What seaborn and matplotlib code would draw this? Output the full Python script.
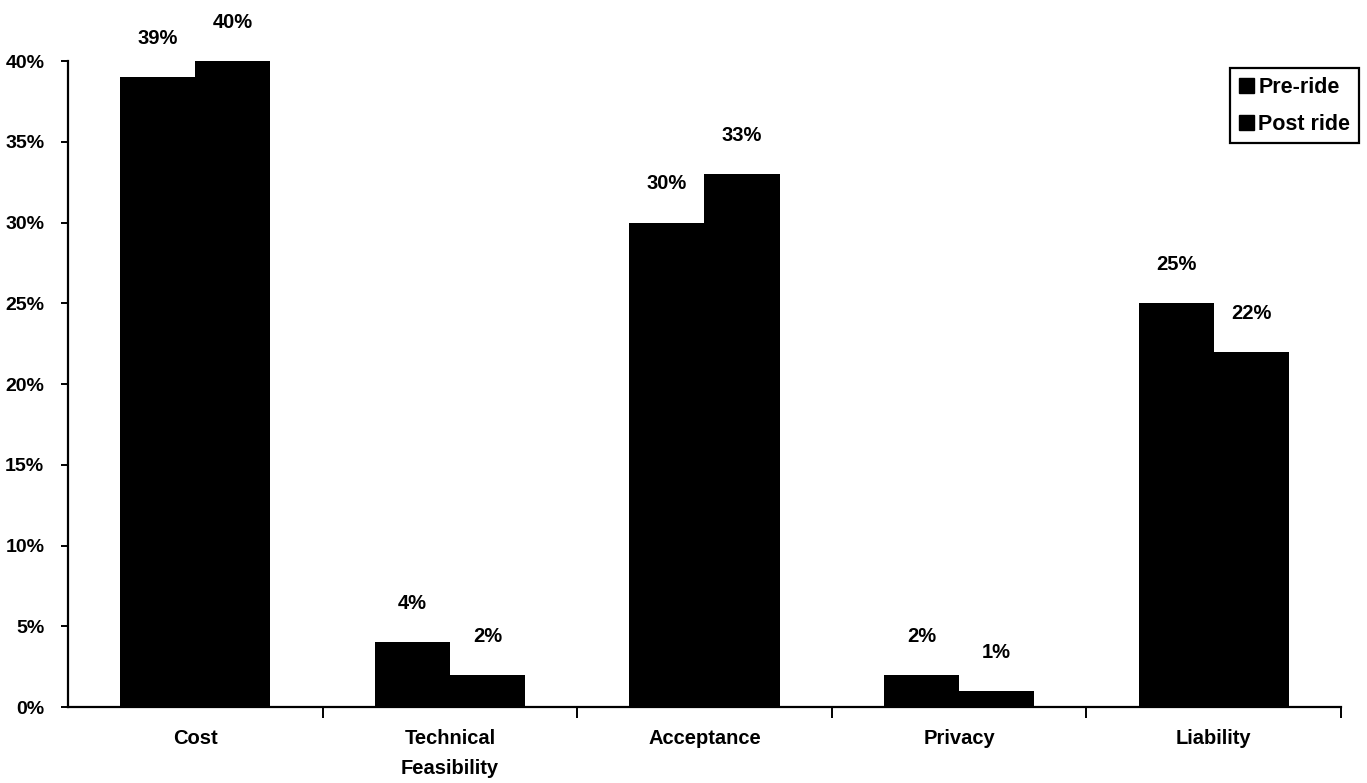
import matplotlib
matplotlib.use("Agg")
import matplotlib.pyplot as plt
import matplotlib.patches as mpatches
from matplotlib.ticker import FixedLocator, FuncFormatter, NullFormatter
import pandas as pd
import seaborn as sns

# Share of respondents naming each barrier, before and after the ride (%)
categories = ["Cost", "Technical\nFeasibility", "Acceptance", "Privacy", "Liability"]
series_names = ["Pre-ride", "Post ride"]
pre_ride = [39, 4, 30, 2, 25]
post_ride = [40, 2, 33, 1, 22]
y_ticks = [0, 5, 10, 15, 20, 25, 30, 35, 40]

df = pd.DataFrame({
    "category": categories * 2,
    "survey": [series_names[0]] * len(categories) + [series_names[1]] * len(categories),
    "share": pre_ride + post_ride,
})

sns.set_theme(style="white")
plt.rcParams["font.family"] = ["Liberation Sans", "DejaVu Sans"]
plt.rcParams["font.weight"] = "bold"
plt.rcParams["text.color"] = "black"
plt.rcParams["xtick.color"] = "black"
plt.rcParams["ytick.color"] = "black"
plt.rcParams["axes.labelcolor"] = "black"

fig = plt.figure(figsize=(13.67, 7.83), dpi=100)
ax = fig.add_axes([0.0497, 0.097, 0.981 - 0.0497, 0.922 - 0.097])

sns.barplot(data=df, x="category", y="share", hue="survey", order=categories,
            hue_order=series_names, palette=["black", "black"], width=0.59,
            gap=0, saturation=1, edgecolor="black", linewidth=0, ax=ax,
            legend=False, errorbar=None)

# value labels above each bar
for container in ax.containers:
    labels = [f"{v:.0f}%" for v in container.datavalues]
    ax.bar_label(container, labels=labels, padding=21, fontsize=14.5,
                 fontweight="bold", color="black", clip_on=False)

ax.set_xlim(-0.5, 4.5)
ax.set_ylim(0, 40)
ax.set_xlabel("")
ax.set_ylabel("")

for side in ["top", "right"]:
    ax.spines[side].set_visible(False)
for side in ["left", "bottom"]:
    ax.spines[side].set_color("black")
    ax.spines[side].set_linewidth(1.6)

ax.yaxis.set_major_locator(FixedLocator(y_ticks))
ax.yaxis.set_major_formatter(FuncFormatter(lambda v, _: f"{v:.0f}%"))
ax.tick_params(axis="y", which="major", left=True, length=5, width=1.4,
               color="black", labelcolor="black", labelsize=14, pad=12)

# category labels centred, tick marks between categories
ax.tick_params(axis="x", which="major", bottom=False, length=0,
               labelsize=14.5, labelcolor="black", pad=16)
ax.xaxis.set_minor_locator(FixedLocator([0.5, 1.5, 2.5, 3.5, 4.5]))
ax.xaxis.set_minor_formatter(NullFormatter())
ax.tick_params(axis="x", which="minor", bottom=True, length=8, width=1.4,
               color="black", direction="out")
for lbl in ax.get_xticklabels() + ax.get_yticklabels():
    lbl.set_fontweight("bold")
    lbl.set_color("black")
for lbl in ax.get_xticklabels():
    lbl.set_linespacing(1.7)

handles = [mpatches.Patch(facecolor="black", edgecolor="black", label=n)
           for n in series_names]
leg = fig.legend(handles=handles, loc="upper right",
                 bbox_to_anchor=(1359 / 1367, 1 - 68 / 783),
                 frameon=True, fancybox=False, framealpha=1, edgecolor="black",
                 prop={"family": "Liberation Sans", "weight": "bold", "size": 15.5},
                 handlelength=0.7, handleheight=0.7, handletextpad=0.2,
                 borderpad=0.4, labelspacing=0.75, borderaxespad=0)
leg.get_frame().set_linewidth(1.6)
for t in leg.get_texts():
    t.set_color("black")

fig.savefig("out.png", dpi=100, facecolor="white")
